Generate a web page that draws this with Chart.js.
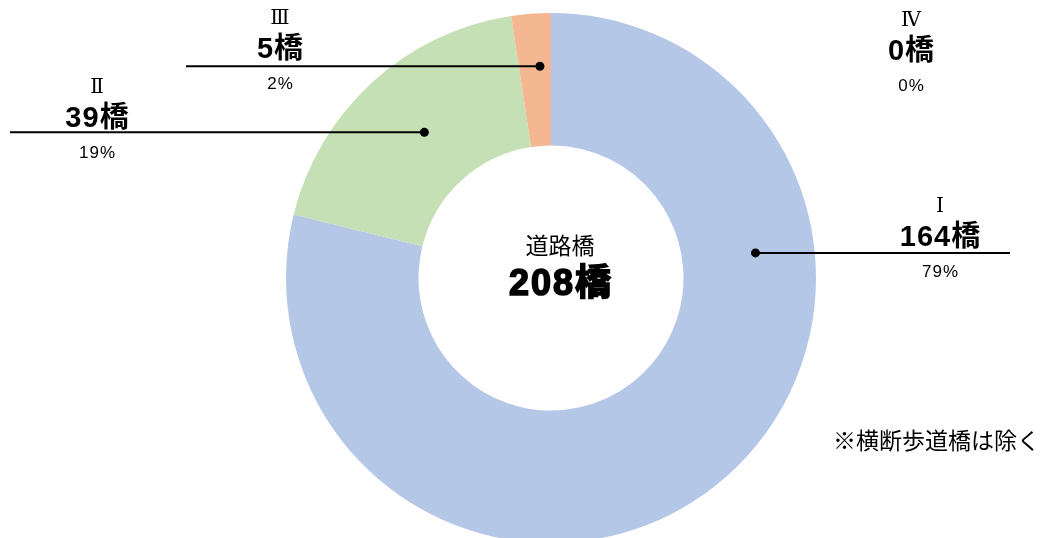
<!DOCTYPE html>
<html lang="ja">
<head>
    <meta charset="UTF-8">
    <title>道路橋 健全度</title>
    <style>
        html, body { margin: 0; padding: 0; background: #fff; overflow: hidden; }
        #wrap { position: relative; width: 1043px; height: 538px; }
        canvas { position: absolute; left: 0; top: 0; }
    </style>
</head>
<body>
    <div id="wrap">
        <canvas id="bridgeChart" width="1043" height="543"></canvas>
    </div>

    <script src="https://cdn.jsdelivr.net/npm/chart.js"></script>
    <script>
        // データ
        const categories = ['Ⅰ', 'Ⅱ', 'Ⅲ', 'Ⅳ'];
        const counts = [164, 39, 5, 0];
        const totalLabel = '道路橋';
        const note = '※横断歩道橋は除く';
        const colors = ['#B4C7E7', '#C5E0B4', '#F5B792', '#DDDDDD'];

        const total = counts.reduce((a, b) => a + b, 0);

        // ラベル配置（角度は上から時計回り、度）
        const labelLayout = [
            { x: 940, y: 207, dotAngle: 83, dotR: 206, lineTo: 1010 },
            { x: 97, y: 88, dotAngle: 319, dotR: 193, lineTo: 10 },
            { x: 280, y: 19, dotAngle: 357, dotR: 212, lineTo: 186 },
            { x: 911, y: 21, dotAngle: null }
        ];

        const jp = '"Noto Sans CJK JP", "Noto Sans", sans-serif';
        const num = '"Liberation Sans", "Noto Sans CJK JP", sans-serif';
        const roman = '"Liberation Serif", "DejaVu Serif", serif';

        function spaced(ctx, text, x, y, spacing, stroke) {
            ctx.letterSpacing = spacing + 'px';
            // letterSpacing は末尾にも付くので半分ずらす
            ctx.fillText(text, x + spacing / 2, y);
            if (stroke) ctx.strokeText(text, x + spacing / 2, y);
            ctx.letterSpacing = '0px';
        }

        const leaderPlugin = {
            id: 'leaders',
            afterDatasetsDraw(chart) {
                const ctx = chart.ctx;
                const arc = chart.getDatasetMeta(0).data[0];
                const cx = arc.x, cy = arc.y;

                ctx.save();
                labelLayout.forEach((l, i) => {
                    // 引き出し線
                    if (l.dotAngle !== null) {
                        const a = (l.dotAngle - 90) * Math.PI / 180;
                        const dx = cx + l.dotR * Math.cos(a);
                        const dy = cy + l.dotR * Math.sin(a);
                        ctx.strokeStyle = '#000';
                        ctx.lineWidth = 2;
                        ctx.beginPath();
                        ctx.moveTo(dx, dy);
                        ctx.lineTo(l.lineTo, dy);
                        ctx.stroke();
                        ctx.fillStyle = '#000';
                        ctx.beginPath();
                        ctx.arc(dx, dy, 4.5, 0, Math.PI * 2);
                        ctx.fill();
                    }

                    ctx.fillStyle = '#000';
                    ctx.textAlign = 'center';
                    ctx.textBaseline = 'middle';
                    ctx.font = '20px ' + roman;
                    ctx.fillText(categories[i], l.x, l.y);
                    ctx.font = 'bold 29px ' + num;
                    spaced(ctx, counts[i] + '橋', l.x, l.y + 31, 1);
                    ctx.font = '17px ' + num;
                    spaced(ctx, Math.round(counts[i] / total * 100) + '%', l.x, l.y + 65, 1);
                });

                // 中央
                ctx.font = '23px ' + jp;
                ctx.fillText(totalLabel, cx + 9, cy - 33);
                ctx.font = 'bold 36px ' + num;
                ctx.strokeStyle = '#000';
                ctx.lineWidth = 1.6;
                spaced(ctx, total + '橋', cx + 9, cy + 7, 2, true);

                // 注記
                ctx.font = '23px ' + jp;
                ctx.textAlign = 'right';
                ctx.fillText(note, 1040, 440);
                ctx.restore();
            }
        };

        new Chart(document.getElementById('bridgeChart'), {
            type: 'doughnut',
            data: {
                labels: categories,
                datasets: [{
                    data: counts,
                    backgroundColor: colors,
                    borderWidth: 0
                }]
            },
            options: {
                responsive: false,
                animation: false,
                cutout: '50%',
                layout: { padding: { left: 286, right: 227, top: 13, bottom: 0 } },
                plugins: {
                    legend: { display: false },
                    tooltip: { enabled: false }
                }
            },
            plugins: [leaderPlugin]
        });
    </script>
</body>
</html>
